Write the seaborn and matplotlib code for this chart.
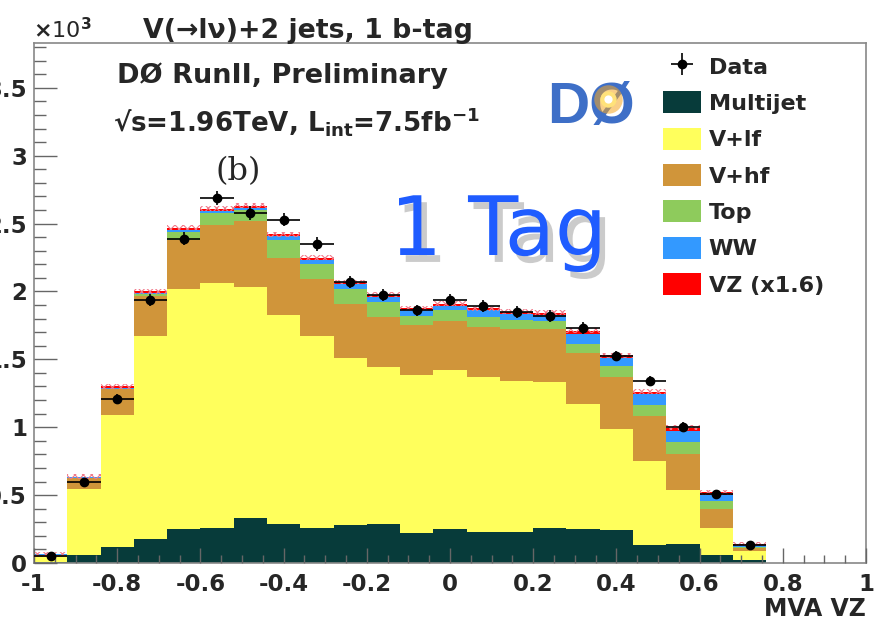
import numpy as np
import pandas as pd
import matplotlib
matplotlib.use("Agg")
import matplotlib.pyplot as plt
import matplotlib.patheffects as pe
from matplotlib.patches import Patch
from matplotlib.ticker import MultipleLocator, FuncFormatter
import seaborn as sns

# ---- binning of the MVA VZ discriminant (25 bins of width 0.08) ----
bin_edges = np.linspace(-1.0, 1.0, 26)
bin_centers = 0.5 * (bin_edges[:-1] + bin_edges[1:])

# ---- expected events per bin, by process ----
multijet = [10, 60, 120, 175, 250, 260, 330, 290, 260, 280, 290, 220, 250,
            230, 230, 255, 250, 240, 130, 140, 60, 20, 0, 0, 0]
v_lf = [35, 485, 970, 1495, 1770, 1800, 1700, 1540, 1410, 1230, 1150, 1165, 1170,
        1140, 1110, 1075, 920, 750, 620, 400, 195, 70, 0, 0, 0]
v_hf = [15, 80, 190, 300, 360, 430, 490, 420, 420, 400, 375, 365, 360,
        370, 380, 390, 375, 380, 330, 260, 140, 20, 0, 0, 0]
top = [2, 3, 5, 10, 60, 90, 80, 130, 110, 110, 105, 70, 80,
       70, 70, 60, 65, 80, 85, 90, 60, 10, 0, 0, 0]
ww = [1, 2, 5, 10, 15, 15, 15, 25, 35, 35, 40, 40, 35,
      50, 45, 50, 80, 60, 80, 85, 45, 15, 0, 0, 0]
vz = [2, 6, 10, 10, 15, 15, 15, 15, 15, 15, 15, 17, 15,
      17, 15, 15, 20, 20, 15, 22, 20, 5, 0, 0, 0]

# ---- observed events (bins with entries) ----
data_events = [50, 600, 1210, 1940, 2390, 2690, 2580, 2530, 2350, 2070, 1975, 1860,
               1940, 1890, 1850, 1820, 1730, 1525, 1340, 1005, 510, 130]

# half height of the hatched uncertainty band on the total prediction
band_half = 18

processes = ["Multijet", "V+lf", "V+hf", "Top", "WW", "VZ (x1.6)"]
colors = {"Multijet": "#073b3a", "V+lf": "#ffff5c", "V+hf": "#d0953a",
          "Top": "#8ecb5c", "WW": "#3399ff", "VZ (x1.6)": "#ff0000"}
yields = dict(zip(processes, [multijet, v_lf, v_hf, top, ww, vz]))

df = pd.concat([pd.DataFrame({"mva": bin_centers, "events": yields[p], "process": p})
                for p in processes], ignore_index=True)

sns.set_style("white")
plt.rcParams["font.family"] = "DejaVu Sans"
plt.rcParams["font.weight"] = "bold"
plt.rcParams["axes.labelweight"] = "bold"
plt.rcParams["mathtext.fontset"] = "dejavusans"
plt.rcParams["hatch.linewidth"] = 0.8

W, H = 875, 623
fig = plt.figure(figsize=(W / 100, H / 100), dpi=100)
ax = fig.add_axes([34 / W, (H - 563) / H, (866 - 34) / W, (563 - 43) / H])


def fx(x):
    return x / W


def fy(y):
    return 1 - y / H


# stacked prediction (seaborn stacks the last hue level at the bottom)
sns.histplot(data=df, x="mva", weights="events", hue="process",
             hue_order=processes[::-1], palette=colors, multiple="stack",
             bins=list(bin_edges), element="bars", alpha=1, linewidth=0,
             legend=False, ax=ax)

total = np.sum([yields[p] for p in processes], axis=0)
filled = total > 0
ax.bar(bin_centers[filled], 2 * band_half, bottom=total[filled] - band_half,
       width=0.08, fill=False, hatch="xxxx", edgecolor="#f07a8a", linewidth=0,
       zorder=3)

n_data = len(data_events)
data_err = ax.errorbar(bin_centers[:n_data], data_events,
                       xerr=0.04, yerr=np.sqrt(data_events),
                       fmt="o", color="black", markersize=6, elinewidth=1.2,
                       capsize=0, zorder=5)

# axes styling: tick marks sit on top of the filled histograms
ax.set_axisbelow(False)
ax.set_xlim(-1, 1)
ax.set_ylim(0, 3830)
ax.set_ylabel("")
ax.set_xlabel("MVA VZ", loc="right", fontsize=17, fontweight="bold", labelpad=1)
ax.xaxis.set_major_locator(MultipleLocator(0.2))
ax.xaxis.set_minor_locator(MultipleLocator(0.05))
ax.yaxis.set_major_locator(MultipleLocator(500))
ax.yaxis.set_minor_locator(MultipleLocator(100))
ax.xaxis.set_major_formatter(FuncFormatter(lambda v, _: f"{v:g}" if abs(v) > 1e-9 else "0"))
ax.yaxis.set_major_formatter(FuncFormatter(lambda v, _: f"{v / 1000:g}"))
ax.tick_params(which="both", direction="in", color="#666666", width=1,
               labelsize=16.5, left=True, bottom=True, top=False, right=False)
ax.tick_params(axis="y", which="major", length=16.5, pad=5)
ax.tick_params(axis="y", which="minor", length=8.5)
ax.tick_params(axis="x", which="major", length=11, pad=7)
ax.tick_params(axis="x", which="minor", length=6)
for s in ax.spines.values():
    s.set_color("#888888")
    s.set_linewidth(1.2)

# header texts
fig.text(fx(33), fy(38), r"$\times$10$^{3}$", fontsize=16, fontweight="normal",
         ha="left", va="baseline")
fig.text(fx(143), fy(38), "V(→lν)+2 jets, 1 b-tag", fontsize=19.3,
         ha="left", va="baseline")

ax.text(fx(117), fy(83), "DØ RunII, Preliminary", fontsize=19.5,
        transform=fig.transFigure, ha="left", va="baseline")
ax.text(fx(113), fy(131), "√s=1.96TeV, L$_{\\mathbf{int}}$=7.5fb$^{\\mathbf{-1}}$",
        fontsize=18.8, transform=fig.transFigure, ha="left", va="baseline")
ax.text(fx(238), fy(172), "(b)", family="DejaVu Serif", fontweight="normal",
        fontsize=23, transform=fig.transFigure, ha="center", va="center")

# experiment logo
ax.text(fx(547), fy(123), "DØ", family="Liberation Sans", fontsize=42,
        fontweight="bold", color="#3e6fc7", transform=fig.transFigure,
        ha="left", va="baseline")
ax.scatter([fx(608)], [fy(99)], s=420, color="#f5a623", alpha=0.55,
           transform=fig.transFigure, zorder=6, linewidths=0)
ax.scatter([fx(608)], [fy(99)], s=140, color="#ffe27a",
           transform=fig.transFigure, zorder=7, linewidths=0)
ax.scatter([fx(608)], [fy(99)], s=35, color="white",
           transform=fig.transFigure, zorder=8, linewidths=0)

# handwritten note
ax.text(fx(390), fy(255), "1 Tag", fontsize=59, fontweight="normal",
        color="#1f5cff", transform=fig.transFigure, ha="left", va="baseline",
        path_effects=[pe.SimplePatchShadow(offset=(4, -5), shadow_rgbFace="#555555",
                                           alpha=0.3), pe.Normal()])

# legend
handles = [data_err] + [Patch(facecolor=colors[p], edgecolor="none") for p in processes]
labels = ["Data"] + processes
ax.legend(handles, labels, loc="upper left", bbox_to_anchor=(fx(663), fy(55)),
          bbox_transform=fig.transFigure, frameon=False, fontsize=16,
          handlelength=1.7, handleheight=1.15, labelspacing=0.62,
          handletextpad=0.35, borderpad=0, borderaxespad=0)

fig.savefig("out.png", dpi=100)
